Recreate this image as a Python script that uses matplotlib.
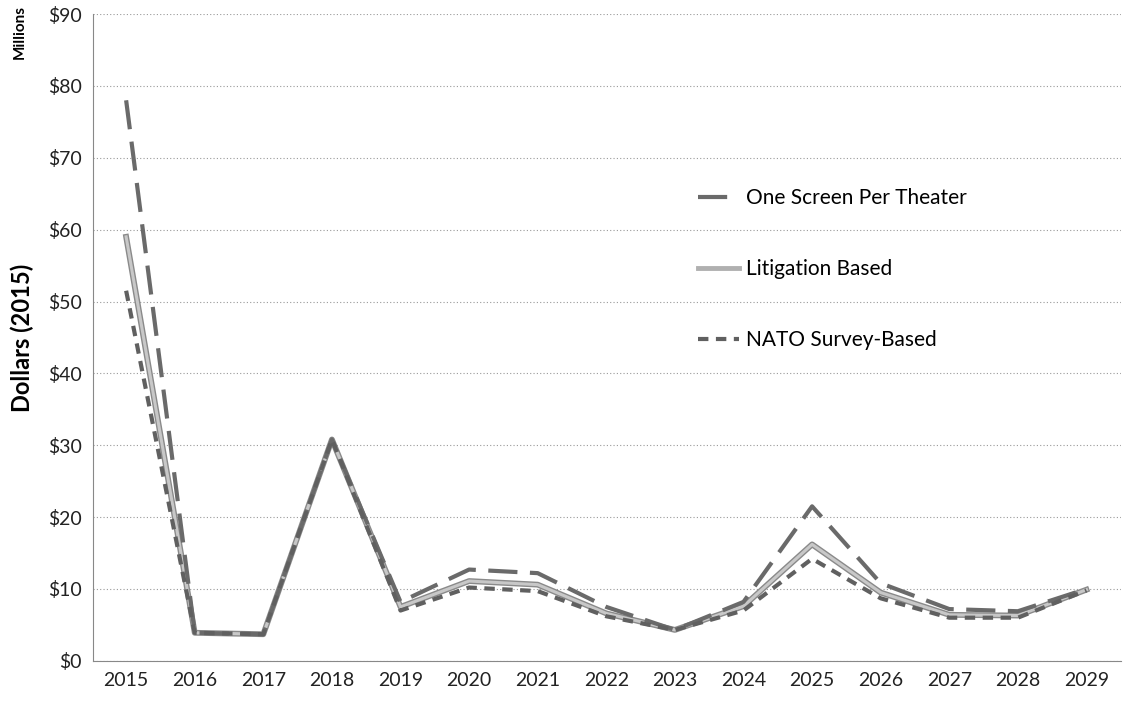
import matplotlib
matplotlib.use("Agg")
import matplotlib.pyplot as plt

plt.rcParams["font.family"] = ["Lato", "DejaVu Sans"]

years = [str(y) for y in range(2015, 2030)]
one_screen = [78.0, 3.9, 3.7, 30.8, 8.2, 12.7, 12.2, 7.5, 4.3, 8.2, 21.5, 10.8, 7.2, 6.9, 10.0]
litigation = [59.0, 3.9, 3.7, 30.8, 7.5, 11.1, 10.6, 6.6, 4.3, 7.6, 16.2, 9.5, 6.4, 6.3, 9.9]
nato = [51.5, 3.9, 3.7, 30.8, 7.0, 10.2, 9.7, 6.2, 4.3, 7.0, 14.2, 8.7, 6.0, 6.0, 9.8]
yticks = list(range(0, 100, 10))

fig = plt.figure(figsize=(11.23, 7.03), dpi=100)
ax = fig.add_axes([0.083, 0.06, 0.915, 0.92])
x = list(range(len(years)))

ax.plot(x, one_screen, color="#6a6a6a", lw=3, linestyle=(0, (7, 3)),
        label="One Screen Per Theater", zorder=3)
# litigation: light line with darker rim
ax.plot(x, litigation, color="#8a8a8a", lw=4.2, zorder=2)
ax.plot(x, litigation, color="#c8c8c8", lw=2.2, zorder=2.5)
ax.plot([], [], color="#b0b0b0", lw=3.5, label="Litigation Based")
ax.plot(x, nato, color="#606060", lw=3, linestyle=(0, (2.5, 1.8)),
        label="NATO Survey-Based", zorder=3)

ax.set_xlim(-0.48, 14.5)
ax.set_ylim(0, 90)
ax.set_xticks(x)
ax.set_xticklabels(years)
ax.set_yticks(yticks)
ax.set_yticklabels(["$%d" % v for v in yticks])
ax.tick_params(axis="both", length=0, labelsize=14, pad=8, colors="#222222")
ax.grid(axis="y", color="#999999", linestyle=(0, (1, 2)), lw=0.8)
for s in ["top", "right"]:
    ax.spines[s].set_visible(False)
for s in ["left", "bottom"]:
    ax.spines[s].set_color("#888888")

ax.set_ylabel("Dollars (2015)", fontsize=17, fontweight="bold", labelpad=10)
fig.text(0.018, 0.955, "Millions", rotation=90, fontsize=11, fontweight="bold",
         ha="center", va="center")

ax.legend(loc="upper left", bbox_to_anchor=(0.57, 0.76), frameon=False,
          fontsize=15, labelspacing=2.45, handlelength=2.0, handletextpad=0.3)

fig.savefig("out.png", dpi=100)
